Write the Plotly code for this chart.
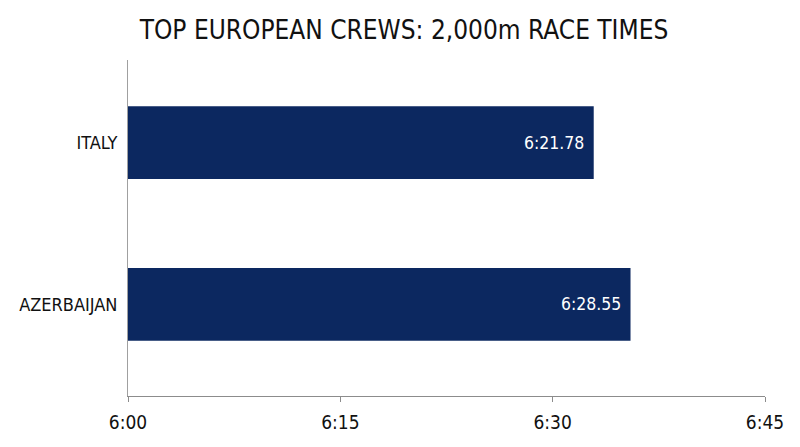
import plotly.graph_objects as go

# Data
crews = ["AZERBAIJAN", "ITALY"]
# bar end positions in seconds (as drawn on the 6:00-6:45 axis)
bar_seconds = [395.5, 392.9]
time_labels = ["6:28.55", "6:21.78"]
tick_values = [360, 375, 390, 405]
tick_labels = ["6:00", "6:15", "6:30", "6:45"]

FONT = "DejaVu Sans Condensed, Liberation Sans Narrow, sans-serif"
NAVY = "#0c2860"

fig = go.Figure()
fig.add_trace(go.Bar(
    x=bar_seconds,
    y=crews,
    orientation="h",
    marker=dict(color=NAVY, line=dict(width=0)),
    width=0.45,
    base=0,
    hoverinfo="skip",
))

for xv, yv, lab in zip(bar_seconds, crews, time_labels):
    fig.add_annotation(
        x=xv, y=yv, text=lab, showarrow=False,
        xanchor="right", yanchor="middle", xshift=-8,
        font=dict(family=FONT, size=17.5, color="white"),
    )

# page body has an 8px margin, so the figure is sized to fit the window
fig.update_layout(
    width=792, height=439,
    margin=dict(l=120, r=35, t=52, b=51, autoexpand=False),
    paper_bgcolor="white", plot_bgcolor="white",
    showlegend=False,
    title=dict(
        text="TOP EUROPEAN CREWS: 2,000m RACE TIMES",
        x=0.5, xanchor="center", y=0.95, yanchor="middle",
        font=dict(family=FONT, size=26, color="#111111"),
    ),
)

fig.update_xaxes(
    range=[360, 405],
    tickmode="array", tickvals=tick_values, ticktext=tick_labels,
    showgrid=False, zeroline=False,
    showline=True, linecolor="#8c8c8c", linewidth=1,
    ticks="outside", ticklen=5, tickcolor="#8c8c8c", tickwidth=1,
    ticklabelstandoff=4,
    tickfont=dict(family=FONT, size=19, color="#111111"),
    automargin=False,
)
fig.update_yaxes(
    type="category",
    range=[-0.566, 1.51],
    showgrid=False, zeroline=False,
    showline=True, linecolor="#a0a0a0", linewidth=1,
    ticks="outside", ticklen=6, tickcolor="rgba(0,0,0,0)",
    tickfont=dict(family=FONT, size=18, color="#111111"),
    automargin=False,
)

fig.write_html("out.html")
